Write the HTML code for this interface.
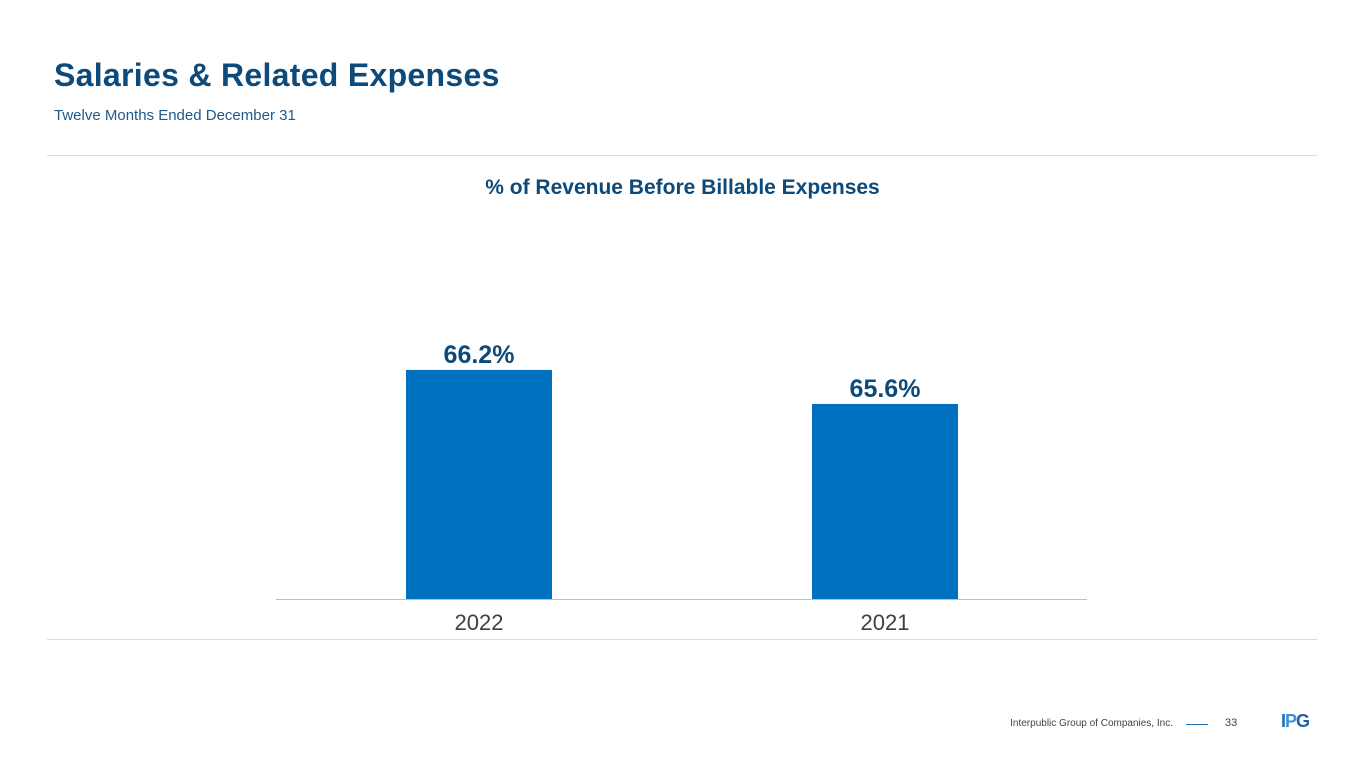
<!DOCTYPE html>
<html><head><meta charset="utf-8"><style>
body{margin:0;width:1365px;height:768px;background:#fff;position:relative;overflow:hidden;font-family:"Liberation Sans",sans-serif}
.abs{position:absolute}
</style></head><body>
<div class="abs" style="left:54px;top:57px;font-size:32px;font-weight:bold;color:#0d4a7a;letter-spacing:0.3px;white-space:nowrap">Salaries &amp; Related Expenses</div>
<div class="abs" style="left:54px;top:107px;font-size:15px;color:#1f5a8a">Twelve Months Ended December 31</div>
<div class="abs" style="left:47px;top:155px;width:1270px;height:1px;background:#dcdcdc"></div>
<div class="abs" style="left:47px;top:639px;width:1270px;height:1px;background:#dcdcdc"></div>
<div class="abs" style="left:0;width:1365px;text-align:center;top:176px;font-size:21px;font-weight:bold;color:#0d4a7a">% of Revenue Before Billable Expenses</div>
<svg class="abs" style="left:0;top:0" width="1365" height="768" id="chart"></svg>
<div class="abs" style="left:900px;top:718px;width:273px;text-align:right;font-size:10px;color:#444;white-space:nowrap">Interpublic Group of Companies, Inc.</div>
<div class="abs" style="left:1186px;top:724px;width:22px;height:1px;background:#1f6fb5"></div>
<div class="abs" style="left:1225px;top:717px;font-size:11px;color:#444">33</div>
<div class="abs" style="left:1281px;top:711px;font-size:18px;font-weight:bold;color:#1f6fb5;letter-spacing:-1px">I<span style="color:#3c8fd0">P</span><span style="color:#1f5fa5">G</span></div>
<script>
const categories=["2022","2021"];
const values=[66.2,65.6];
const labels=["66.2%","65.6%"];
const svg=document.getElementById('chart');
const NS='http://www.w3.org/2000/svg';
const baseY=599, minV=62.16, pxPer=56.7;
const y=v=>baseY-(v-minV)*pxPer;
const x=i=>406+i*406;
const bw=146;
const axis=document.createElementNS(NS,'line');


axis.setAttribute('x1',276);axis.setAttribute('x2',1087);axis.setAttribute('y1',599.5);axis.setAttribute('y2',599.5);axis.setAttribute('stroke','#bfbfbf');
categories.forEach((c,i)=>{
 const r=document.createElementNS(NS,'rect');
 
 
 r.setAttribute('x',x(i));r.setAttribute('y',y(values[i]));r.setAttribute('width',bw);r.setAttribute('height',baseY-y(values[i]));r.setAttribute('fill','#0070c0');
 svg.appendChild(r);
 const t=document.createElementNS(NS,'text');
 
 
 t.setAttribute('x',x(i)+bw/2);t.setAttribute('y',y(values[i])-7);t.setAttribute('text-anchor','middle');
 t.setAttribute('font-size','25');t.setAttribute('font-weight','bold');t.setAttribute('fill','#0d4a7a');t.setAttribute('font-family','Liberation Sans, sans-serif');
 t.textContent=labels[i];svg.appendChild(t);
 const l=document.createElementNS(NS,'text');
 
 
 l.setAttribute('x',x(i)+bw/2);l.setAttribute('y',630);l.setAttribute('text-anchor','middle');
 l.setAttribute('font-size','22');l.setAttribute('fill','#404040');l.setAttribute('font-family','Liberation Sans, sans-serif');
 l.textContent=c;svg.appendChild(l);
});
svg.appendChild(axis);
</script>
</body></html>
